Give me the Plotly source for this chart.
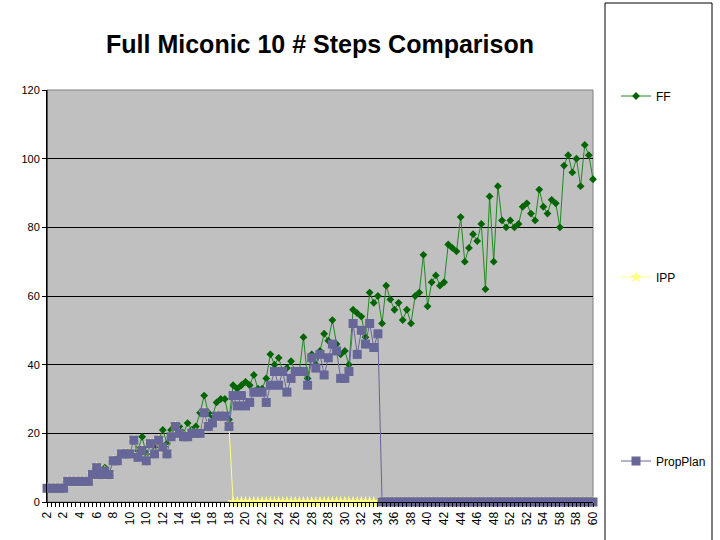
import plotly.graph_objects as go

# ---- data ----
tick_labels = ["2", "2", "4", "6", "8", "10", "10", "12", "14", "16", "18", "18",
               "20", "22", "24", "26", "28", "28", "30", "32", "34", "36", "38",
               "40", "42", "44", "46", "48", "52", "52", "54", "58", "58", "60"]

ff = [4, 4, 4, 4, 4, 6, 6, 6, 6, 6,
      6, 8, 10, 8, 10, 8, 12, 12, 14, 14,
      14, 18, 15, 19, 14, 17, 16, 18, 21, 17,
      21, 22, 22, 20, 23, 21, 22, 26, 31, 26,
      25, 29, 30, 30, 24, 34, 33, 34, 35, 34,
      37, 33, 33, 36, 43, 40, 42, 38, 39, 41,
      38, 38, 48, 36, 43, 40, 44, 49, 47, 53,
      46, 43, 44, 40, 56, 55, 54, 48, 61, 58,
      60, 52, 63, 59, 56, 58, 53, 56, 52, 60,
      61, 72, 57, 64, 66, 63, 64, 75, 74, 73,
      83, 70, 74, 78, 76, 81, 62, 89, 70, 92,
      82, 80, 82, 80, 81, 86, 87, 84, 82, 91,
      86, 84, 88, 87, 80, 98, 101, 96, 100, 92,
      104, 101, 94]

ipp = [4, 4, 4, 4, 4, 6, 6, 6, 6, 6,
       6, 8, 10, 8, 9, 8, 12, 12, 14, 14,
       14, 18, 13, 15, 12, 17, 14, 18, 16, 14,
       19, 22, 20, 19, 19, 20, 20, 20, 26, 22,
       23, 25, 25, 25, 22, 0, 0, 0, 0, 0,
       0, 0, 0, 0, 0, 0, 0, 0, 0, 0,
       0, 0, 0, 0, 0, 0, 0, 0, 0, 0,
       0, 0, 0, 0, 0, 0, 0, 0, 0, 0,
       0, 0, 0, 0, 0, 0, 0, 0, 0, 0,
       0, 0, 0, 0, 0, 0, 0, 0, 0, 0,
       0, 0, 0, 0, 0, 0, 0, 0, 0, 0,
       0, 0, 0, 0, 0, 0, 0, 0, 0, 0,
       0, 0, 0, 0, 0, 0, 0, 0, 0, 0,
       0, 0, 0]

prop_plan = [4, 4, 4, 4, 4, 6, 6, 6, 6, 6,
             6, 8, 10, 8, 9, 8, 12, 12, 14, 14,
             14, 18, 13, 15, 12, 17, 14, 18, 16, 14,
             19, 22, 20, 19, 19, 20, 20, 20, 26, 22,
             23, 25, 25, 25, 22, 31, 28, 31, 28, 29,
             32, 32, 32, 29, 34, 38, 34, 38, 32, 36,
             38, 38, 38, 34, 42, 39, 43, 37, 42, 46,
             44, 36, 36, 38, 52, 43, 50, 46, 52, 45,
             49, 0, 0, 0, 0, 0, 0, 0, 0, 0,
             0, 0, 0, 0, 0, 0, 0, 0, 0, 0,
             0, 0, 0, 0, 0, 0, 0, 0, 0, 0,
             0, 0, 0, 0, 0, 0, 0, 0, 0, 0,
             0, 0, 0, 0, 0, 0, 0, 0, 0, 0,
             0, 0, 0]

n = len(ff)
x = list(range(n))
label_step = 4
tick_vals = list(range(0, n, label_step))[:len(tick_labels)]

FONT = "Liberation Sans, Arial, sans-serif"

fig = go.Figure()
fig.add_trace(go.Scatter(
    x=x, y=ff, name="FF", mode="lines+markers", legend="legend",
    line=dict(color="#1f8a1f", width=1),
    marker=dict(symbol="diamond", size=6, color="#006400"),
    cliponaxis=False))
fig.add_trace(go.Scatter(
    x=x, y=ipp, name="IPP", mode="lines+markers", legend="legend2",
    line=dict(color="#FFFF80", width=1),
    marker=dict(symbol="star", size=9, color="#FFFF80"),
    cliponaxis=False))
fig.add_trace(go.Scatter(
    x=x, y=prop_plan, name="PropPlan", mode="lines+markers", legend="legend3",
    line=dict(color="#666699", width=1),
    marker=dict(symbol="square", size=9, color="#666699"),
    cliponaxis=False))

leg_common = dict(xref="container", yref="container", xanchor="left", yanchor="middle",
                  bgcolor="rgba(0,0,0,0)", borderwidth=0,
                  font=dict(family=FONT, size=12, color="black"))

fig.update_layout(
    width=720, height=540,
    margin=dict(l=47, r=127, t=90, b=38),
    paper_bgcolor="white", plot_bgcolor="#C0C0C0",
    title=dict(text="<b>Full Miconic 10 # Steps Comparison</b>",
               font=dict(family=FONT, size=25, color="black"),
               x=0.5, xref="paper", xanchor="center",
               y=1 - 44 / 540, yref="container", yanchor="middle"),
    legend=dict(x=616 / 720, y=1 - 96 / 540, **leg_common),
    legend2=dict(x=616 / 720, y=1 - 277 / 540, **leg_common),
    legend3=dict(x=616 / 720, y=1 - 461 / 540, **leg_common),
    xaxis=dict(range=[0, n - 1], tickmode="array", tickvals=tick_vals,
               ticktext=tick_labels, tickangle=-90, showgrid=False, zeroline=False,
               showline=True, linecolor="black", linewidth=1,
               ticks="outside", ticklen=4, tickcolor="black",
               minor=dict(dtick=1, tick0=0, ticks="outside", ticklen=4, tickcolor="black"),
               tickfont=dict(family=FONT, size=12, color="black")),
    yaxis=dict(range=[0, 120], dtick=20, showgrid=True, gridcolor="black", gridwidth=1,
               zeroline=False, showline=True, linecolor="black", linewidth=1,
               ticks="outside", ticklen=4, tickcolor="black",
               tickfont=dict(family=FONT, size=11, color="black")),
    showlegend=True,
)

# plot-area border (gray top/right) and legend frame
fig.add_shape(type="rect", xref="paper", yref="paper", x0=0, x1=1, y0=0, y1=1,
              line=dict(color="#808080", width=1), layer="between")
fig.add_shape(type="line", xref="paper", yref="paper", x0=0, x1=0, y0=0, y1=1,
              line=dict(color="black", width=1), layer="between")
fig.add_shape(type="rect", xref="paper", yref="paper",
              x0=(605 - 47) / 546, x1=(712 - 47) / 546,
              y0=(502 - 560) / 412, y1=(502 - 3) / 412,
              line=dict(color="black", width=1), fillcolor="rgba(0,0,0,0)")

fig.write_html("out.html", config={"displayModeBar": False},
               post_script="document.body.style.margin='0';")
